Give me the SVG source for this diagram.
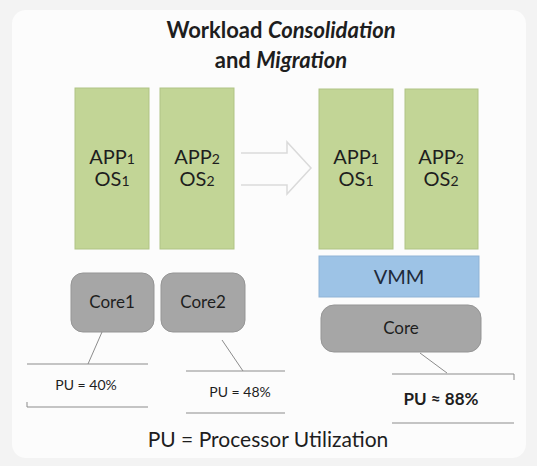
<svg xmlns="http://www.w3.org/2000/svg" width="537" height="466" viewBox="0 0 537 466">
<style>
text{font-family:Lato,"Open Sans","Liberation Sans",sans-serif;fill:#1e1e1e}
.vm{fill:#c2d596;stroke:#b0c385;stroke-width:1}
.lbl{font-size:20px;text-anchor:middle}
.sub{font-size:14px}
.core{fill:#a6a6a6;stroke:#959595;stroke-width:1}
.pu{font-size:14px;text-anchor:middle}
.ln{stroke:#8c8c8c;stroke-width:1;fill:none}
</style>
<rect x="0" y="0" width="537" height="466" fill="#f3f3f3"/>
<rect x="12" y="10" width="514" height="448" rx="14" fill="#fcfcfc"/>
<g id="title">
<text x="281" y="38" font-size="22" font-weight="bold" text-anchor="middle">Workload <tspan font-style="italic">Consolidation</tspan></text>
<text x="281" y="68" font-size="22" font-weight="bold" text-anchor="middle">and <tspan font-style="italic">Migration</tspan></text>
</g>
<g id="vm1"><rect class="vm" x="75" y="88" width="74" height="161"/>
<text class="lbl" x="112" y="164">APP<tspan class="sub">1</tspan></text>
<text class="lbl" x="112" y="186">OS<tspan class="sub">1</tspan></text></g>
<g id="vm2"><rect class="vm" x="160" y="88" width="74" height="161"/>
<text class="lbl" x="197" y="164">APP<tspan class="sub">2</tspan></text>
<text class="lbl" x="197" y="186">OS<tspan class="sub">2</tspan></text></g>
<g id="vm3"><rect class="vm" x="319" y="89" width="74" height="160"/>
<text class="lbl" x="356" y="164">APP<tspan class="sub">1</tspan></text>
<text class="lbl" x="356" y="186">OS<tspan class="sub">1</tspan></text></g>
<g id="vm4"><rect class="vm" x="405" y="89" width="73" height="160"/>
<text class="lbl" x="441" y="164">APP<tspan class="sub">2</tspan></text>
<text class="lbl" x="441" y="186">OS<tspan class="sub">2</tspan></text></g>
<g id="vmm"><rect x="319" y="256" width="160" height="41" fill="#9dc3e6" stroke="#8fb3d6"/>
<text x="399" y="284" font-size="20" text-anchor="middle" style="fill:#1f2a3a">VMM</text></g>
<g id="core1"><rect class="core" x="71" y="273" width="83" height="59" rx="12"/>
<text x="112" y="308" font-size="17" text-anchor="middle">Core1</text></g>
<g id="core2"><rect class="core" x="161" y="273" width="84" height="59" rx="12"/>
<text x="203" y="308" font-size="17" text-anchor="middle">Core2</text></g>
<g id="core"><rect class="core" x="321" y="305" width="160" height="47" rx="13"/>
<text x="401" y="334" font-size="17" text-anchor="middle">Core</text></g>
<g id="pu1"><line class="ln" x1="27" y1="364" x2="148" y2="364"/><line class="ln" x1="27" y1="407" x2="148" y2="407"/><line class="ln" x1="27" y1="402" x2="27" y2="407"/>
<text class="pu" x="86" y="390">PU = 40%</text></g>
<g id="pu2"><line class="ln" x1="186" y1="371" x2="285" y2="371"/><line class="ln" x1="186" y1="413" x2="285" y2="413"/>
<text class="pu" x="240" y="397">PU = 48%</text></g>
<g id="pu3"><line class="ln" x1="392" y1="374" x2="514" y2="374"/><line class="ln" x1="514" y1="374" x2="514" y2="380"/><line class="ln" x1="392" y1="423" x2="514" y2="423"/>
<text x="441" y="405" font-size="17" font-weight="bold" text-anchor="middle">PU ≈ 88%</text></g>
<g id="connectors">
<line class="ln" x1="102" y1="332" x2="88" y2="364" stroke="#b0b0b0"/>
<line class="ln" x1="222" y1="340" x2="243" y2="371" stroke="#b8b8b8"/>
<line class="ln" x1="420" y1="353" x2="447" y2="373" stroke="#a0a0a0"/>
<path d="M241,153 H287 V142 L311,168 L287,194 V185 H241" fill="none" stroke="#dadada" stroke-width="1.5"/>
</g>
<text x="268" y="447" font-size="21" text-anchor="middle">PU = Processor Utilization</text>
</svg>
